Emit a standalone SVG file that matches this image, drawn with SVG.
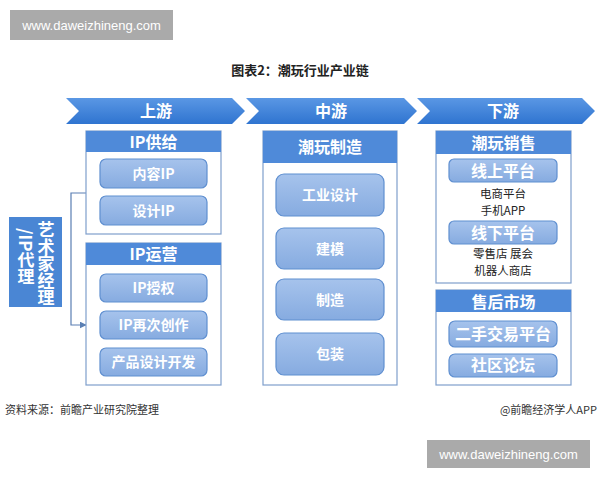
<svg xmlns="http://www.w3.org/2000/svg" width="600" height="480" viewBox="0 0 600 480">
<defs>
<linearGradient id="chev" x1="0" y1="0" x2="0" y2="1">
<stop offset="0" stop-color="#5a97e4"/><stop offset="1" stop-color="#2f74d0"/>
</linearGradient>
<linearGradient id="btn" x1="0" y1="0" x2="0" y2="1">
<stop offset="0" stop-color="#a6c3ec"/><stop offset="1" stop-color="#86abe0"/>
</linearGradient>
<marker id="arr" viewBox="0 0 10 10" refX="9" refY="5" markerWidth="7" markerHeight="7" orient="auto" markerUnits="userSpaceOnUse">
<path d="M0,0 L10,5 L0,10 z" fill="#5a7fb3"/>
</marker>
</defs>
<style>
text{font-family:"Noto Sans CJK SC","Liberation Sans",sans-serif}
.wm{fill:#aaaaaa}
.wmt{fill:#fff;font-size:13px;font-family:"Liberation Sans","Noto Sans CJK SC",sans-serif}
.chev{fill:url(#chev)}
.chevt{fill:#fff;font-size:16px;font-weight:bold;text-anchor:middle}
.body{fill:#fff;stroke:#7f9fcc;stroke-width:1.2}
.head{fill:#4f8ad9}
.headt{fill:#fff;font-size:16px;font-weight:bold;text-anchor:middle}
.btn{fill:url(#btn);stroke:#5f8fd0;stroke-width:1.2}
.btnt{fill:#fff;font-size:14px;font-weight:bold;text-anchor:middle}
.btnl{fill:#fff;font-size:16px;font-weight:bold;text-anchor:middle}
.plain{fill:#222;font-size:11.5px;text-anchor:middle}
.foot{fill:#333;font-size:11px}
.conn{fill:none;stroke:#5a7fb3;stroke-width:1.2}
</style>
<rect width="600" height="480" fill="#fff"/>

<g id="watermark-top">
<rect class="wm" x="10" y="10" width="163" height="30"/>
<text class="wmt" x="91.5" y="30" text-anchor="middle">www.daweizhineng.com</text>
</g>

<text x="300" y="75" text-anchor="middle" font-size="13" font-weight="bold" fill="#222">图表2：潮玩行业产业链</text>

<g id="chevron-up">
<path class="chev" d="M66,98 L232,98 L245,111 L232,124 L66,124 L79,111 z"/>
<text class="chevt" x="156" y="117">上游</text>
</g>
<g id="chevron-mid">
<path class="chev" d="M246,98 L404,98 L417,111 L404,124 L246,124 L259,111 z"/>
<text class="chevt" x="331" y="117">中游</text>
</g>
<g id="chevron-down">
<path class="chev" d="M417,98 L582,98 L595,111 L582,124 L417,124 L430,111 z"/>
<text class="chevt" x="503" y="117">下游</text>
</g>

<g id="agent">
<rect x="9" y="217" width="53" height="90" fill="#4a86d4"/>
<text x="46" y="221" fill="#fff" font-size="17" font-weight="bold" style="writing-mode:vertical-rl" text-anchor="start">艺术家经理</text>
<text x="26" y="228" fill="#fff" font-size="17" font-weight="bold" style="writing-mode:vertical-rl" text-anchor="start">/IP代理</text>
</g>

<g id="connectors">
<path class="conn" d="M86,193 L71,193 L71,325 L86,325" marker-end="url(#arr)"/>
</g>

<g id="ip-supply">
<rect class="body" x="86" y="131" width="135" height="103"/>
<rect class="head" x="86" y="131" width="135" height="21"/>
<text class="headt" x="153.5" y="147.5">IP供给</text>
<rect class="btn" x="100" y="159" width="107" height="29" rx="6"/>
<text class="btnt" x="153.5" y="178.5">内容IP</text>
<rect class="btn" x="100" y="196" width="107" height="29" rx="6"/>
<text class="btnt" x="153.5" y="215.5">设计IP</text>
</g>

<g id="ip-operation">
<rect class="body" x="86" y="243" width="135" height="142"/>
<rect class="head" x="86" y="243" width="135" height="22"/>
<text class="headt" x="153.5" y="260">IP运营</text>
<rect class="btn" x="100" y="274" width="107" height="28" rx="6"/>
<text class="btnt" x="153.5" y="293">IP授权</text>
<rect class="btn" x="100" y="311" width="107" height="28" rx="6"/>
<text class="btnt" x="153.5" y="330">IP再次创作</text>
<rect class="btn" x="100" y="348" width="107" height="28" rx="6"/>
<text class="btnt" x="153.5" y="367">产品设计开发</text>
</g>

<g id="manufacture">
<rect class="body" x="263" y="131" width="134" height="254"/>
<rect class="head" x="263" y="131" width="134" height="32"/>
<text class="headt" x="330" y="153">潮玩制造</text>
<rect class="btn" x="276" y="174" width="108" height="42" rx="8"/>
<text class="btnt" x="330" y="200">工业设计</text>
<rect class="btn" x="276" y="228" width="108" height="41" rx="8"/>
<text class="btnt" x="330" y="253.5">建模</text>
<rect class="btn" x="276" y="279" width="108" height="41" rx="8"/>
<text class="btnt" x="330" y="304.5">制造</text>
<rect class="btn" x="276" y="333" width="108" height="42" rx="8"/>
<text class="btnt" x="330" y="359">包装</text>
</g>

<g id="sales">
<rect class="body" x="436" y="131" width="135" height="152"/>
<rect class="head" x="436" y="131" width="135" height="23"/>
<text class="headt" x="503.5" y="149">潮玩销售</text>
<rect class="btn" x="449" y="159" width="108" height="23" rx="5"/>
<text class="btnl" x="503" y="176.5">线上平台</text>
<text class="plain" x="503" y="198">电商平台</text>
<text class="plain" x="503" y="215">手机APP</text>
<rect class="btn" x="449" y="221" width="108" height="23" rx="5"/>
<text class="btnl" x="503" y="238.5">线下平台</text>
<text class="plain" x="503" y="258">零售店 展会</text>
<text class="plain" x="503" y="275">机器人商店</text>
</g>

<g id="after-sales">
<rect class="body" x="436" y="290" width="135" height="95"/>
<rect class="head" x="436" y="290" width="135" height="22"/>
<text class="headt" x="503.5" y="307.5">售后市场</text>
<rect class="btn" x="449" y="321" width="108" height="26" rx="6"/>
<text class="btnl" x="503" y="339.5">二手交易平台</text>
<rect class="btn" x="449" y="354" width="108" height="23" rx="6"/>
<text class="btnl" x="503" y="371">社区论坛</text>
</g>

<text class="foot" x="5" y="414">资料来源：前瞻产业研究院整理</text>
<text class="foot" x="597" y="414" text-anchor="end">@前瞻经济学人APP</text>

<g id="watermark-bottom">
<rect class="wm" x="427" y="440" width="163" height="28"/>
<text class="wmt" x="508.5" y="459" text-anchor="middle">www.daweizhineng.com</text>
</g>
</svg>
